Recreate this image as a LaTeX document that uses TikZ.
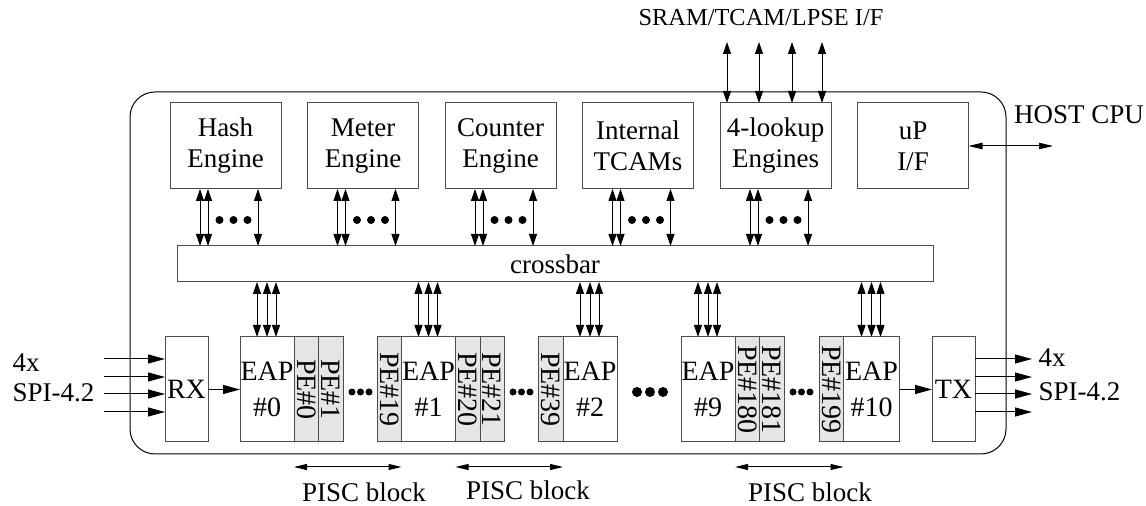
\documentclass[tikz,border=0pt]{standalone}
\usepackage{fontspec}
\setmainfont{Liberation Serif}
\usetikzlibrary{positioning,arrows.meta}

\begin{document}
\begin{tikzpicture}[x=0.5pt, y=-0.5pt,
                    line width=0.5pt,
                    node distance=13.25pt,
                    engine/.style={draw=black!70, rectangle, minimum width=55.5pt, minimum height=43pt, inner sep=0pt, outer sep=0pt, align=center, font=\fontsize{13.5}{15.5}\selectfont},
                    eap/.style={draw=black!70, rectangle, minimum width=27pt, minimum height=52.5pt, inner sep=0pt, outer sep=0pt, align=center, fill=white, font=\fontsize{14}{18}\selectfont},
                    pe/.style={eap, minimum width=12.25pt, fill=black!10},
                    io/.style={eap, minimum width=21.5pt},
                    txt/.style={inner sep=0pt, font=\fontsize{13.5}{15.5}\selectfont},
                    biarrow/.style={{Triangle[length=6pt,width=4pt]}-{Triangle[length=6pt,width=4pt]}},
                    inarrow/.style={-{Triangle[length=8.5pt,width=4.5pt]}},
                    hostarrow/.style={{Triangle[length=7pt,width=3.2pt]}-{Triangle[length=7pt,width=3.2pt]}},
                    spanarrow/.style={{Triangle[length=6.5pt,width=3pt]}-{Triangle[length=6.5pt,width=3pt]}}
                ]
                \useasboundingbox (0,0) rectangle (1146,506);

                % Chip outline
                \draw[rounded corners=12.5pt] (130,92) rectangle (1006,454);

                % Engines
                \node[engine] (hash) at (225.5,146) {Hash\\Engine};
                \node[engine, right=of hash] (meter) {Meter\\Engine};
                \node[engine, right=of meter] (counter) {Counter\\Engine};
                \node[engine, right=of counter] (tcam) {Internal\\TCAMs};
                \node[engine, right=of tcam] (lookup) {4-lookup\\Engines};
                \node[engine, right=of lookup] (up) {uP\\I/F};

                % Crossbar
                \node[engine, minimum width=378pt, minimum height=18pt] (xbar) at (555,264) {crossbar};

                % Packet pipeline
                \node[io] (rx) at (186.5,389.5) {RX};
                \node[eap, right=16pt of rx] (eap0) {EAP\\\#0};
                \node[pe, right=0pt of eap0] (pe0) {\rotatebox{-90}{PE\#0}};
                \node[pe, right=0pt of pe0] (pe1) {\rotatebox{-90}{PE\#1}};
                \node[pe, right=17pt of pe1] (pe19) {\rotatebox{-90}{PE\#19}};
                \node[eap, right=0pt of pe19] (eap1) {EAP\\\#1};
                \node[pe, right=0pt of eap1] (pe20) {\rotatebox{-90}{PE\#20}};
                \node[pe, right=0pt of pe20] (pe21) {\rotatebox{-90}{PE\#21}};
                \node[pe, right=17pt of pe21] (pe39) {\rotatebox{-90}{PE\#39}};
                \node[eap, right=0pt of pe39] (eap2) {EAP\\\#2};
                \node[eap, right=32pt of eap2] (eap9) {EAP\\\#9};
                \node[pe, right=0pt of eap9] (pe180) {\rotatebox{-90}{PE\#180}};
                \node[pe, right=0pt of pe180] (pe181) {\rotatebox{-90}{PE\#181}};
                \node[pe, right=17.5pt of pe181] (pe199) {\rotatebox{-90}{PE\#199}};
                \node[eap, minimum width=28pt, right=0pt of pe199] (eap10) {EAP\\\#10};
                \node[io, right=16.25pt of eap10] (tx) {TX};

                % Dots
                \foreach \x in {352,360.5,369,513,521.5,530,793,801.5,810}
                    \fill (\x,392) circle (1.75pt);
                \foreach \x in {637,650,663}
                    \fill (\x,392) circle (2.5pt);

                % Engines <-> crossbar
                \foreach \e in {hash,meter,counter,tcam,lookup}{
                    \foreach \dx in {15pt,19pt,44pt}
                        \draw[biarrow] ([xshift=\dx]\e.south west) -- ([xshift=\dx]\e.south west |- xbar.north);
                    \foreach \dx in {24.75pt,31.75pt,38.75pt}
                        \fill ([xshift=\dx]\e.south west) ++(0,31) circle (2pt);
                }

                % Crossbar <-> EAPs
                \foreach \u in {eap0,eap1,eap2,eap9,eap10}
                    \foreach \dx in {-5pt,0pt,4.5pt}
                        \draw[biarrow] ([xshift=\dx]\u.north) -- ([xshift=\dx]\u.north |- xbar.south);

                % External interfaces
                \coordinate (ifrow) at (0,42);
                \foreach \dx in {3.5pt,19.5pt,36pt,51pt}
                    \draw[biarrow] ([xshift=\dx]lookup.north west) -- ([xshift=\dx]lookup.north west |- ifrow);
                \node[txt, font=\fontsize{12.2}{14}\selectfont] (sram) at (761,18) {SRAM/TCAM/LPSE I/F};

                \coordinate (hostend) at (1053,146);
                \draw[hostarrow] (up.east) -- (hostend);
                \node[txt] (host) at (1079,115) {HOST CPU};

                \foreach \y [count=\i] in {359,377,394,412}{
                    \coordinate (in\i) at (104,\y);
                    \draw[inarrow] (in\i) -- (in\i -| rx.west);
                    \coordinate (out\i) at (1032,\y);
                    \draw[inarrow] (out\i -| tx.east) -- (out\i);
                }
                \node[txt, anchor=west] (inx) at (12,363) {4x};
                \node[txt, anchor=west] (inspi) at (12,393) {SPI-4.2};
                \node[txt, anchor=west] (outx) at (1038,358) {4x};
                \node[txt, anchor=west] (outspi) at (1038,392) {SPI-4.2};

                \draw[inarrow] (rx) -- (eap0);
                \draw[inarrow] (eap10) -- (tx);

                % PISC blocks
                \coordinate (pisc) at (0,467);
                \draw[spanarrow] (pe0.west |- pisc) -- (eap1.west |- pisc);
                \draw[spanarrow] (pe20.west |- pisc) -- (eap2.west |- pisc);
                \draw[spanarrow] (pe180.west |- pisc) -- (eap10.west |- pisc);
                \node[txt] (pisca) at (364,492) {PISC block};
                \node[txt] (piscb) at (528,490) {PISC block};
                \node[txt] (piscc) at (810,492) {PISC block};
            \end{tikzpicture}
\end{document}
